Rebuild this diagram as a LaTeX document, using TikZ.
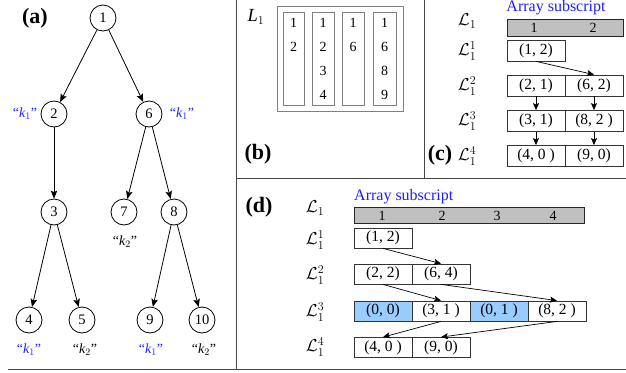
\documentclass[tikz,border=0pt]{standalone}
\usepackage{fontspec}
\setmainfont{Liberation Serif}
\usetikzlibrary{arrows.meta,calc}
\definecolor{kblue}{RGB}{30,30,255}
\definecolor{cellblue}{RGB}{153,204,255}
\definecolor{barg}{RGB}{192,192,192}
\definecolor{sepg}{RGB}{70,70,70}
\begin{document}
\begin{tikzpicture}[x=1pt,y=-1pt,
  tn/.style={circle,draw,line width=0.8pt,minimum size=26pt,inner sep=0pt,font=\fontsize{14.5}{16}\selectfont},
  arr/.style={line width=0.8pt,-{Stealth[length=8pt,width=6.5pt,inset=1.5pt]}},
  lab/.style={font=\fontsize{22}{24}\selectfont\bfseries,inner sep=0pt},
  kq/.style={font=\fontsize{14}{16}\selectfont,inner sep=0pt},
  kb/.style={kq,text=kblue},
  sep/.style={line width=1pt,draw=sepg},
  gbox/.style={draw=gray,line width=1pt,inner sep=0pt},
  bnum/.style={font=\fontsize{14}{16}\selectfont,inner sep=0pt},
  mlab/.style={font=\fontsize{18.5}{20}\selectfont,inner sep=0pt},
  cellc/.style={draw=black!80,line width=0.8pt,minimum width=58pt,minimum height=21pt,inner sep=0pt,font=\fontsize{15.5}{17}\selectfont},
  celld/.style={draw=black!80,line width=0.8pt,minimum width=58pt,minimum height=20pt,inner sep=0pt,font=\fontsize{15.5}{17}\selectfont},
  bar/.style={draw=black!85,fill=barg,line width=0.8pt,inner sep=0pt},
  sub/.style={font=\fontsize{16}{18}\selectfont,text=kblue,inner sep=0pt},
  darr/.style={line width=0.7pt,-{Stealth[length=7pt,width=6pt,inset=1.5pt]}}
]
\useasboundingbox (0,0) rectangle (626,372);
% separators
\draw[sep] (236,0) -- (236,369);
\draw[sep] (8,369) -- (626,369);
\draw[sep] (236,178) -- (626,178);
\draw[sep] (424,0) -- (424,178);

% ---------- (a) tree ----------
\node[lab] at (35,18) {(a)};
\node[tn] (n1) at (103,18) {1};
\node[tn] (n2) at (54,114) {2};
\node[tn] (n6) at (149,114) {6};
\node[tn] (n3) at (54,212) {3};
\node[tn] (n7) at (124,212) {7};
\node[tn] (n8) at (174,212) {8};
\node[tn] (n4) at (29,320) {4};
\node[tn] (n5) at (82,320) {5};
\node[tn] (n9) at (150,320) {9};
\node[tn] (n10) at (202,320) {10};
\draw[arr] (n1) -- (n2);
\draw[arr] (n1) -- (n6);
\draw[arr] (n2) -- (n3);
\draw[arr] (n6) -- (n7);
\draw[arr] (n6) -- (n8);
\draw[arr] (n3) -- (n4);
\draw[arr] (n3) -- (n5);
\draw[arr] (n8) -- (n9);
\draw[arr] (n8) -- (n10);
\node[kb] (k2) at (25,114) {``$\textit{k}_1$''};
\node[kb] (k6) at (182,114) {``$\textit{k}_1$''};
\node[kq] (k7) at (125,242) {``$\textit{k}_2$''};
\node[kb] (k4) at (29,350) {``$\textit{k}_1$''};
\node[kq] (k5) at (85,350) {``$\textit{k}_2$''};
\node[kb] (k9) at (151,350) {``$\textit{k}_1$''};
\node[kq] (k10) at (204,350) {``$\textit{k}_2$''};

% ---------- (b) ----------
\node[mlab] (bl) at (256,17) {$\textit{L}_1$};
\node[lab] at (258,154) {(b)};
\node[gbox,minimum width=126pt,minimum height=105pt] (bout) at (340,58.5) {};
\node[gbox,minimum width=21pt,minimum height=93pt] (bb1) at (293.5,58.5) {};
\node[gbox,minimum width=22pt,minimum height=93pt] (bb2) at (323,58.5) {};
\node[gbox,minimum width=22pt,minimum height=93pt] (bb3) at (353,58.5) {};
\node[gbox,minimum width=23pt,minimum height=93pt] (bb4) at (384.5,58.5) {};
\foreach \x/\list in {293.5/{1,2},323/{1,2,3,4},353/{1,6},384.5/{1,6,8,9}}{
  \foreach \v [count=\i] in \list {
    \node[bnum] at (\x,{23+(\i-1)*24}) {\v};
  }
}

% ---------- (c) ----------
\node[lab] at (440,155) {(c)};
\node[mlab] (cl0) at (467,21) {$\mathcal{L}_1$};
\node[mlab] (cl1) at (467,51) {$\mathcal{L}_1^1$};
\node[mlab] (cl2) at (467,86) {$\mathcal{L}_1^2$};
\node[mlab] (cl3) at (467,121) {$\mathcal{L}_1^3$};
\node[mlab] (cl4) at (467,156) {$\mathcal{L}_1^4$};
\node[sub] at (556,8) {Array subscript};
\node[bar,minimum width=116pt,minimum height=17pt] (cbar) at (565,27.5) {};
\node[bnum] at (534,28) {1};
\node[bnum] at (593,28) {2};
\node[cellc] (c11) at (536,50.5) {(1, 2)};
\node[cellc] (c21) at (536,85.5) {(2, 1)};
\node[cellc] (c22) at (594,85.5) {(6, 2)};
\node[cellc] (c31) at (536,121) {(3, 1)};
\node[cellc] (c32) at (594,121) {(8, 2 )};
\node[cellc] (c41) at (536,156) {(4, 0 )};
\node[cellc] (c42) at (594,156) {(9, 0)};
\draw[darr] (c11.south) -- (c22.north);
\draw[darr] (c21.south) -- (c31.north);
\draw[darr] (c22.south) -- (c32.north);
\draw[darr] (c31.south) -- (c41.north);
\draw[darr] (c32.south) -- (c42.north);

% ---------- (d) ----------
\node[lab] at (259,207) {(d)};
\node[mlab] (dl0) at (315,208) {$\mathcal{L}_1$};
\node[mlab] (dl1) at (315,240) {$\mathcal{L}_1^1$};
\node[mlab] (dl2) at (315,275) {$\mathcal{L}_1^2$};
\node[mlab] (dl3) at (315,312) {$\mathcal{L}_1^3$};
\node[mlab] (dl4) at (315,347) {$\mathcal{L}_1^4$};
\node[sub,anchor=west] at (354,197) {Array subscript};
\node[bar,minimum width=230pt,minimum height=16pt] (dbar) at (469,215) {};
\node[bnum] at (382,216) {1};
\node[bnum] at (442,216) {2};
\node[bnum] at (497,216) {3};
\node[bnum] at (553,216) {4};
\node[celld] (d11) at (383,238) {(1, 2)};
\node[celld] (d21) at (383,274) {(2, 2)};
\node[celld] (d22) at (441,274) {(6, 4)};
\node[celld,fill=cellblue] (d31) at (383,311) {(0, 0)};
\node[celld] (d32) at (441,311) {(3, 1 )};
\node[celld,fill=cellblue] (d33) at (499,311) {(0, 1 )};
\node[celld] (d34) at (557,311) {(8, 2 )};
\node[celld] (d41) at (383,347.5) {(4, 0 )};
\node[celld] (d42) at (441,347.5) {(9, 0)};
\draw[darr] (d11.south) -- (d22.north);
\draw[darr] (d21.south) -- (d32.north);
\draw[darr] (d22.south) -- (d34.north);
\draw[darr] (d34.south) -- (d42.north);
\draw[darr] (d32.south) -- (d41.north);
\end{tikzpicture}
\end{document}
